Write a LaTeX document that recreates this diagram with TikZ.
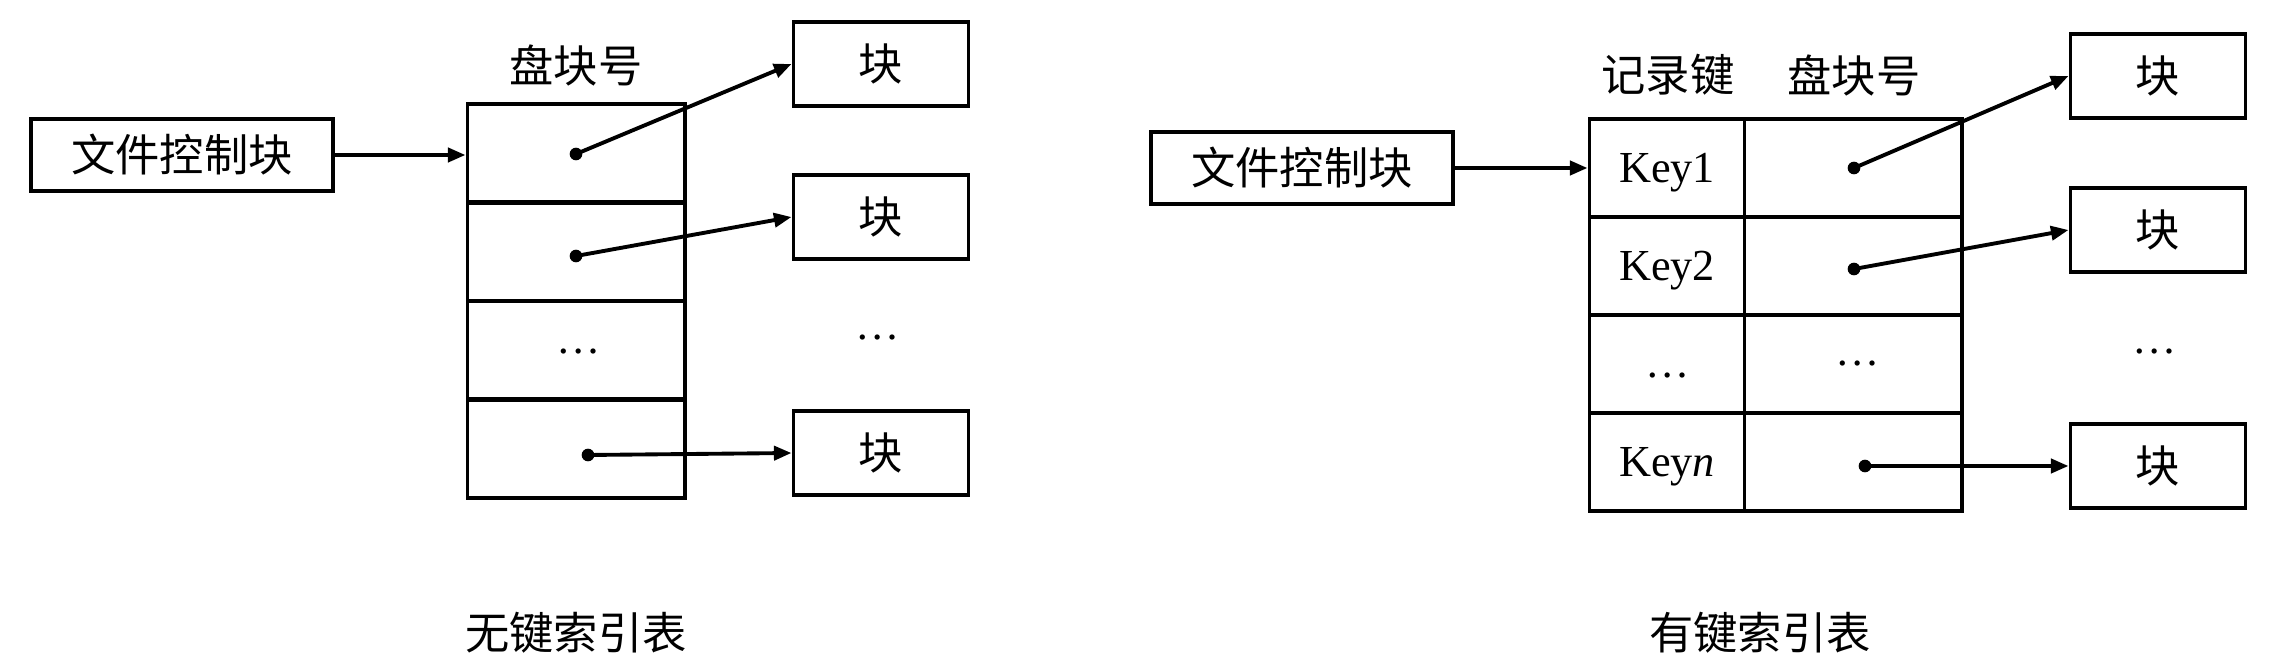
\documentclass[tikz,border=0pt]{standalone}
\usepackage{fontspec}
\setmainfont{Liberation Serif}
\newfontfamily\cjk{Noto Sans CJK SC}
\usetikzlibrary{arrows.meta, positioning}

\begin{document}
\begin{tikzpicture}[
  x=0.01cm, y=-0.01cm,
  txt/.style={font=\fontsize{12.6}{15}\selectfont\cjk, inner sep=0pt},
  lat/.style={font=\fontsize{12.6}{15}\selectfont\rmfamily, inner sep=0pt},
  box/.style={draw, line width=1.1pt, inner sep=0pt, txt},
  fcb/.style={box, minimum width=3.01cm, minimum height=0.72cm},
  cell/.style={box, minimum width=2.17cm, minimum height=0.98cm},
  keycell/.style={box, lat, text depth=0pt, minimum width=1.55cm, minimum height=0.98cm},
  blk/.style={box, minimum width=1.75cm, minimum height=0.84cm},
  arr/.style={-{Triangle[length=5pt, width=4pt]}, line width=1.1pt},
  dot/.style={fill=black},
]
\useasboundingbox (0,0) rectangle (2271,667);

% 无键索引表
\node[fcb] (fcbA) at (182,155) {文件控制块};
\node[txt] (hdrA) at (576,65) {盘块号};
\node[cell] (a1) at (576,153) {};
\node[cell] (a2) at (576,252) {};
\node[cell] (a3) at (576,350) {};
\node[cell] (a4) at (576,449) {};
\node[lat] (a3d) at (579,352) {…};
\node[blk] (ba1) at (881,64) {块};
\node[blk] (ba2) at (881,217) {块};
\node[lat] (ba3) at (878,338) {…};
\node[blk] (ba4) at (881,453) {块};
\node[txt] (capA) at (576,633) {无键索引表};

\coordinate (pa1) at (576,154);
\coordinate (pa2) at (576,256);
\coordinate (pa4) at (588,455);

\draw[arr] (fcbA.east) -- (fcbA.east -| a1.west);
\foreach \p/\b in {pa1/ba1, pa2/ba2, pa4/ba4} {
  \fill[dot] (\p) circle (1.8pt);
  \draw[arr] (\p) -- (\b.west);
}

% 有键索引表
\node[fcb] (fcbB) at (1302,168) {文件控制块};
\node[txt] (hdrK) at (1668,75) {记录键};
\node[txt] (hdrB) at (1854,75) {盘块号};
\node[keycell] (k1) at (1667,168) {Key1};
\node[keycell] (k2) at (1667,266) {Key2};
\node[keycell] (k3) at (1667,364) {};
\node[keycell] (k4) at (1667,462) {Key\textit{n}};
\node[cell] (c1) at (1853,168) {};
\node[cell] (c2) at (1853,266) {};
\node[cell] (c3) at (1853,364) {};
\node[cell] (c4) at (1853,462) {};
\node[lat] (k3d) at (1668,376) {…};
\node[lat] (c3d) at (1858,364) {…};
\node[blk] (bb1) at (2158,76) {块};
\node[blk] (bb2) at (2158,230) {块};
\node[lat] (bb3) at (2155,352) {…};
\node[blk] (bb4) at (2158,466) {块};
\node[txt] (capB) at (1760,633) {有键索引表};

\coordinate (pb1) at (1854,168);
\coordinate (pb2) at (1854,269);
\coordinate (pb4) at (1865,466);

\draw[arr] (fcbB.east) -- (k1.west);
\foreach \p/\b in {pb1/bb1, pb2/bb2, pb4/bb4} {
  \fill[dot] (\p) circle (1.8pt);
  \draw[arr] (\p) -- (\b.west);
}
\end{tikzpicture}
\end{document}
